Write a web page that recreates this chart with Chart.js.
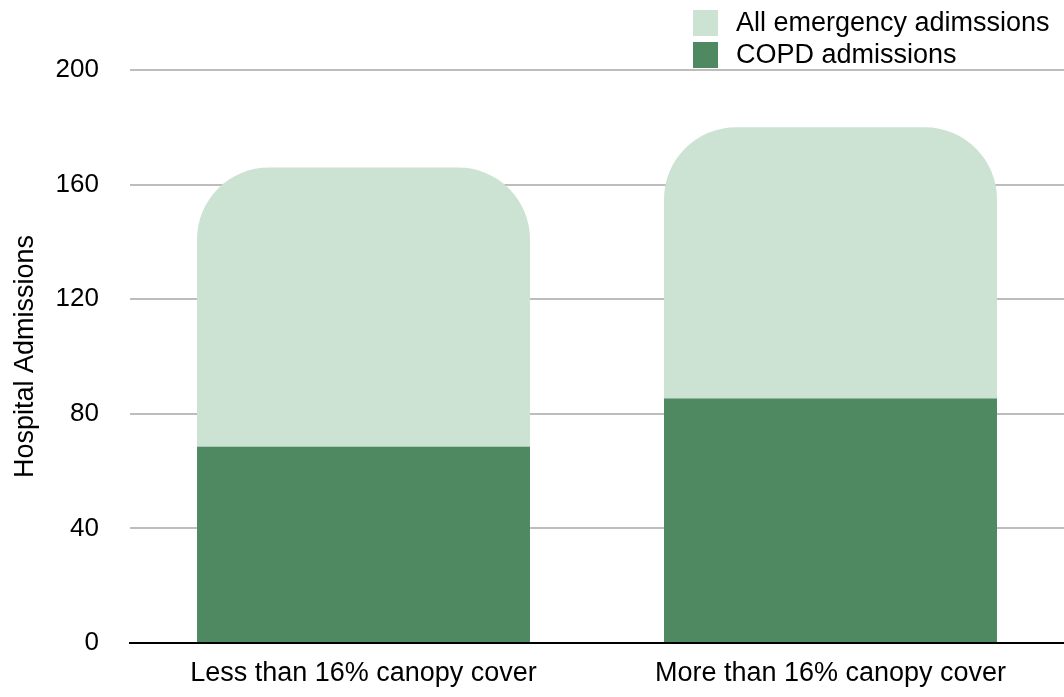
<!DOCTYPE html>
<html>
<head>
<meta charset="utf-8">
<script src="https://cdn.jsdelivr.net/npm/chart.js@4/dist/chart.umd.min.js"></script>
<style>
  html, body { margin: 0; padding: 0; background: #ffffff; }
  #wrap { width: 1064px; height: 697px; }
</style>
</head>
<body>
<div id="wrap"><canvas id="chart" width="1064" height="697"></canvas></div>
<script>
// Admissions by canopy cover
const categories = ['Less than 16% canopy cover', 'More than 16% canopy cover'];
const allEmergency = [166, 180];
const copdAdmissions = [68.5, 85.3];
const seriesNames = ['All emergency adimssions', 'COPD admissions'];
const yMax = 200;
const yStep = 40;

const FONT = '"Liberation Sans", Arial, Helvetica, sans-serif';
const LIGHT = '#cce2d3';
const DARK = '#4e8962';

// Two-row legend drawn in the top-right corner
const cornerLegend = {
  id: 'cornerLegend',
  afterDraw(chart) {
    const ctx = chart.ctx;
    ctx.save();
    ctx.font = '27px ' + FONT;
    ctx.textBaseline = 'middle';
    ctx.textAlign = 'left';
    chart.data.datasets.forEach((ds, i) => {
      const y = 10 + i * 32;
      ctx.fillStyle = ds.backgroundColor;
      ctx.fillRect(693, y, 25, 26);
      ctx.fillStyle = '#000000';
      ctx.fillText(ds.label, 736, y + 14);
    });
    ctx.restore();
  }
};

new Chart(document.getElementById('chart'), {
  type: 'bar',
  data: {
    labels: categories,
    datasets: [
      {
        label: seriesNames[0],
        data: allEmergency,
        backgroundColor: LIGHT,
        borderRadius: { topLeft: 72, topRight: 72, bottomLeft: 0, bottomRight: 0 },
        borderSkipped: false,
        order: 1
      },
      {
        label: seriesNames[1],
        data: copdAdmissions,
        backgroundColor: DARK,
        order: 0
      }
    ]
  },
  options: {
    responsive: false,
    animation: false,
    devicePixelRatio: 1,
    layout: { padding: { top: 70, left: 0, right: 0, bottom: 0 } },
    plugins: {
      legend: { display: false },
      tooltip: { enabled: false }
    },
    datasets: {
      bar: { categoryPercentage: 1.0, barPercentage: 0.713 }
    },
    scales: {
      x: {
        stacked: true,
        grid: { display: false, drawTicks: false },
        border: { display: true, color: '#000000', width: 2 },
        ticks: {
          color: '#000000',
          padding: 14,
          font: { family: FONT, size: 27 },
          maxRotation: 0
        },
        afterFit(scale) { scale.height = 54; }
      },
      y: {
        stacked: false,
        min: 0,
        max: yMax,
        grid: { color: '#bdbdbd', lineWidth: 2, drawTicks: false },
        border: { display: false },
        ticks: {
          stepSize: yStep,
          color: '#000000',
          padding: 31,
          font: { family: FONT, size: 26 }
        },
        title: {
          display: true,
          text: 'Hospital Admissions',
          color: '#000000',
          font: { family: FONT, size: 27 },
          padding: { top: 9, bottom: 0 }
        },
        afterFit(scale) { scale.width = 130; }
      }
    }
  },
  plugins: [cornerLegend]
});
</script>
</body>
</html>
